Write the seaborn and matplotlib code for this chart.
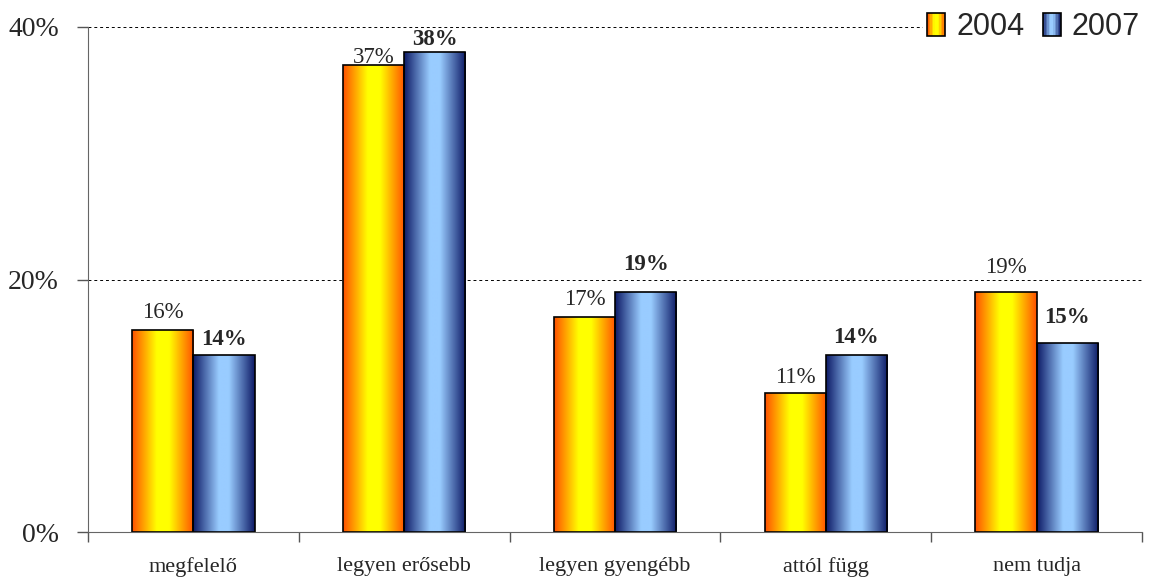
import numpy as np
import pandas as pd
import matplotlib
matplotlib.use('Agg')
import matplotlib.pyplot as plt
import seaborn as sns
from matplotlib.colors import LinearSegmentedColormap
from matplotlib.patches import Rectangle
from matplotlib.legend_handler import HandlerBase
from matplotlib.ticker import FixedLocator, PercentFormatter

categories = ['megfelelő', 'legyen erősebb', 'legyen gyengébb', 'attól függ', 'nem tudja']
years = ['2004', '2007']
values_2004 = [16, 37, 17, 11, 19]
values_2007 = [14, 38, 19, 14, 15]
yticks = [0, 20, 40]

# gap between bar top and label baseline (pixels), as Excel placed them
label_gap_2004 = [12, 2, 12, 10, 19]
label_gap_2007 = [10, 7, 22, 12, 20]

cmaps = {
    '2004': LinearSegmentedColormap.from_list(
        'orange', [(0, '#FF5000'), (0.4, '#FFFF00'), (0.6, '#FFFF00'), (1, '#FF5000')]),
    '2007': LinearSegmentedColormap.from_list(
        'blue', [(0, '#0D1A66'), (0.42, '#99CCFF'), (0.58, '#99CCFF'), (1, '#0D1A66')]),
}

df = pd.DataFrame({
    'category': categories * 2,
    'year': ['2004'] * len(categories) + ['2007'] * len(categories),
    'value': values_2004 + values_2007,
})

sns.set_style('white')
plt.rcParams['font.family'] = ['Liberation Serif', 'DejaVu Serif']

fig = plt.figure(figsize=(11.52, 5.86), dpi=100)
ax = fig.add_axes([88 / 1152, 54 / 586, 1054 / 1152, 505 / 586])

sns.barplot(data=df, x='category', y='value', hue='year', order=categories,
            hue_order=years, width=0.58, gap=0, ax=ax, legend=False,
            edgecolor='black', linewidth=1.2, saturation=1)

# gradient fill inside each bar
grad = np.linspace(0, 1, 256).reshape(1, -1)
for year, cont in zip(years, ax.containers):
    for bar in cont:
        x0, y0 = bar.get_x(), bar.get_y()
        w, h = bar.get_width(), bar.get_height()
        im = ax.imshow(grad, extent=[x0, x0 + w, y0, y0 + h], aspect='auto',
                       cmap=cmaps[year], zorder=bar.get_zorder() - 0.1,
                       interpolation='bilinear')
        im.set_clip_path(bar)
        bar.set_facecolor('none')

# value labels
for cont, vals, gaps, weight in [(ax.containers[0], values_2004, label_gap_2004, 'normal'),
                                 (ax.containers[1], values_2007, label_gap_2007, 'bold')]:
    for bar, v, g in zip(cont, vals, gaps):
        ax.annotate(f'{v}%', (bar.get_x() + bar.get_width() / 2, bar.get_height()),
                    xytext=(0, g * 0.72), textcoords='offset points',
                    ha='center', va='baseline', fontsize=16.5, fontweight=weight,
                    zorder=5)

ax.set_xlim(-0.5, len(categories) - 0.5)
ax.set_ylim(0, 40)
ax.set_yticks(yticks)
ax.yaxis.set_major_formatter(PercentFormatter(decimals=0))
ax.tick_params(axis='y', left=True, length=8, width=1, color='#555555',
               labelsize=20, pad=13)
ax.xaxis.set_minor_locator(FixedLocator(np.arange(-0.5, len(categories), 1)))
ax.tick_params(axis='x', which='major', length=0, labelsize=16, pad=18)
ax.tick_params(axis='x', which='minor', bottom=True, length=7, width=1,
               color='#555555')
ax.set_xlabel('')
ax.set_ylabel('')

for y in yticks[1:]:
    ax.axhline(y, color='black', linestyle=(0, (3, 3)), linewidth=0.7, zorder=0)

for s in ['top', 'right']:
    ax.spines[s].set_visible(False)
ax.spines['left'].set_color('#666666')
ax.spines['bottom'].set_color('#666666')


class GradHandler(HandlerBase):
    def __init__(self, cmap):
        super().__init__()
        self.cmap = cmap

    def create_artists(self, legend, orig_handle, xdescent, ydescent, width,
                       height, fontsize, trans):
        n = 12
        arts = []
        for i in range(n):
            r = Rectangle((-xdescent + width * i / n, -ydescent), width / n, height,
                          facecolor=self.cmap((i + 0.5) / n), edgecolor='none',
                          transform=trans)
            arts.append(r)
        arts.append(Rectangle((-xdescent, -ydescent), width, height,
                              facecolor='none', edgecolor='black', linewidth=1.2,
                              transform=trans))
        return arts


handles = [Rectangle((0, 0), 1, 1), Rectangle((0, 0), 1, 1)]
leg = fig.legend(handles, years, loc='upper right', bbox_to_anchor=(1.0, 1.0),
                 ncol=2, frameon=True, fancybox=False, edgecolor='white',
                 framealpha=1, prop={'family': 'Liberation Sans', 'size': 22},
                 handlelength=0.6, handleheight=0.75, handletextpad=0.35,
                 columnspacing=0.6, borderpad=0.15, borderaxespad=0.25,
                 handler_map={handles[0]: GradHandler(cmaps['2004']),
                              handles[1]: GradHandler(cmaps['2007'])})

fig.savefig('out.png', dpi=100, facecolor='white')
